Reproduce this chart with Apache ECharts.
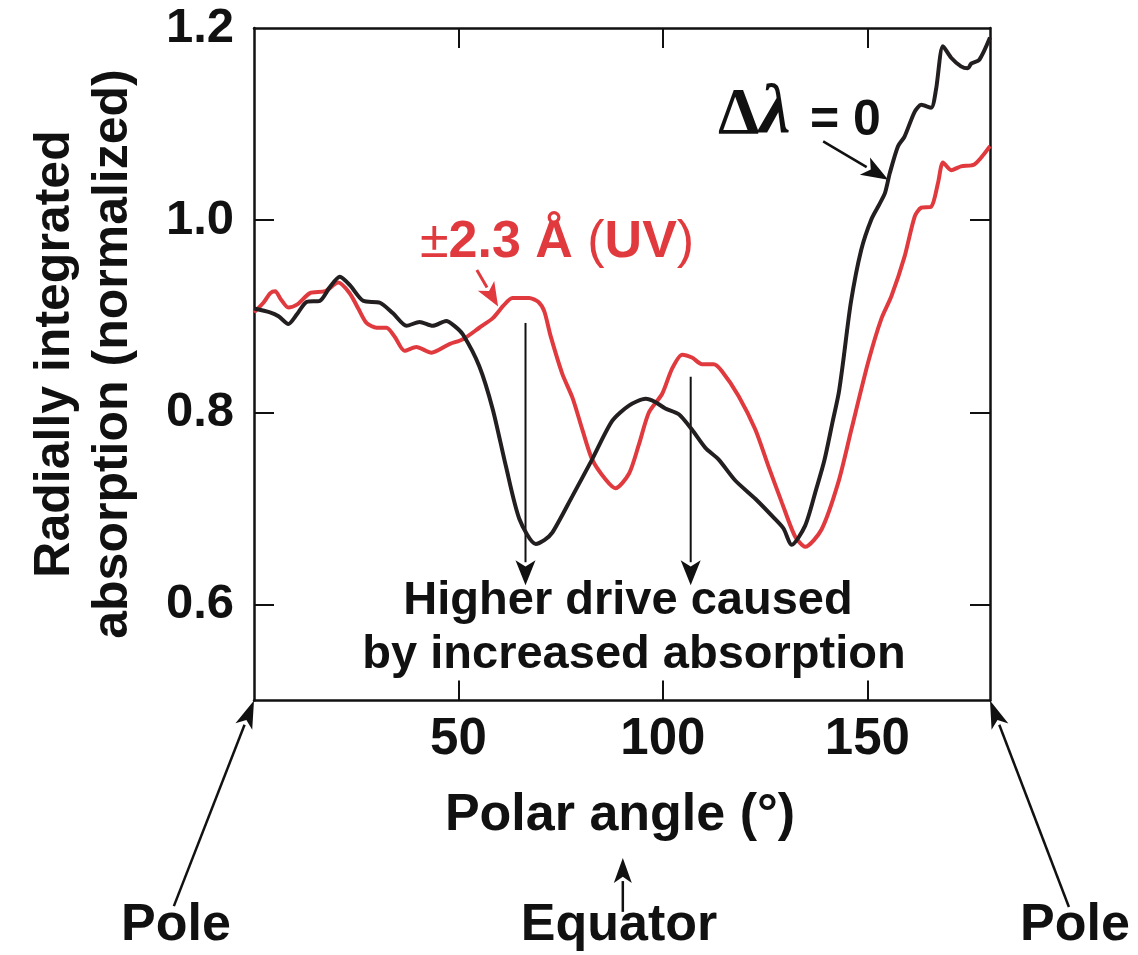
<!DOCTYPE html>
<html>
<head>
<meta charset="utf-8">
<script src="https://cdn.jsdelivr.net/npm/echarts@6/dist/echarts.min.js"></script>
<style>
  html, body { margin: 0; padding: 0; background: #ffffff; }
  #chart { width: 1138px; height: 955px; }
</style>
</head>
<body>
<div id="chart"></div>
<script>
// Polar angle (degrees) and normalized absorption, no wavelength shift (Δλ = 0)
const angleNoShift = [0, 3.9, 6, 8.4, 10.5, 12.9, 16.1, 18.5, 21.0, 23.5, 26.7, 30.8, 34, 37.3, 40.5, 43.7, 47.0, 49, 51.1, 55.1, 58.4, 61.6, 64.9, 68.9, 71, 73.0, 77.9, 82.7, 87.6, 91.7, 95.8, 98, 100.6, 103.9, 107.1, 110.4, 113.6, 117.7, 122.6, 127.4, 129.5, 131.5, 134.8, 137.5, 139.5, 141.5, 143, 144, 146, 148.5, 151.0, 153.0, 154.3, 155.5, 157.5, 159.1, 161.6, 163.2, 165.6, 166.8, 168.5, 170.5, 172.9, 174.6, 175.4, 177.4, 180];
const absorbNoShift = [0.908, 0.904, 0.900, 0.892, 0.902, 0.915, 0.916, 0.930, 0.941, 0.932, 0.916, 0.914, 0.903, 0.890, 0.894, 0.890, 0.895, 0.890, 0.881, 0.848, 0.803, 0.744, 0.689, 0.663, 0.667, 0.675, 0.713, 0.751, 0.791, 0.807, 0.814, 0.811, 0.804, 0.798, 0.782, 0.763, 0.751, 0.729, 0.710, 0.689, 0.679, 0.662, 0.682, 0.720, 0.750, 0.790, 0.820, 0.850, 0.915, 0.969, 1.001, 1.017, 1.028, 1.049, 1.077, 1.087, 1.113, 1.120, 1.117, 1.136, 1.181, 1.169, 1.160, 1.158, 1.163, 1.167, 1.190];

// Same quantity with ±2.3 Å (UV) wavelength shift
const angleShifted = [0, 2.3, 4, 5.2, 6.5, 8.4, 10.5, 13.7, 17.4, 20.6, 23.4, 25.5, 27.5, 30, 32.4, 34.5, 36.8, 39.7, 43.4, 47.8, 51.1, 55.1, 58.4, 61, 63.2, 67.3, 69.5, 71, 72.5, 75.4, 77.9, 80.3, 82.7, 86.0, 88.4, 91.7, 94.1, 96.6, 99.8, 102.2, 104.7, 107.1, 109.6, 112.4, 114.4, 118.5, 122.6, 125.8, 129.1, 132.3, 134.8, 138.8, 142.9, 146.1, 150.2, 153.4, 155.9, 159.1, 161.6, 163.2, 165.6, 167.3, 168.5, 170.5, 172.9, 176.2, 180];
const absorbShifted = [0.904, 0.914, 0.924, 0.926, 0.918, 0.909, 0.912, 0.924, 0.926, 0.935, 0.924, 0.908, 0.893, 0.888, 0.888, 0.878, 0.864, 0.868, 0.862, 0.871, 0.876, 0.888, 0.898, 0.911, 0.919, 0.919, 0.915, 0.905, 0.880, 0.840, 0.815, 0.782, 0.751, 0.730, 0.721, 0.736, 0.766, 0.800, 0.819, 0.845, 0.860, 0.857, 0.850, 0.850, 0.843, 0.817, 0.782, 0.744, 0.706, 0.671, 0.660, 0.678, 0.727, 0.782, 0.852, 0.897, 0.921, 0.962, 1.004, 1.013, 1.014, 1.039, 1.060, 1.052, 1.056, 1.058, 1.077];

// Axis ticks and labels
const xTicks = [50, 100, 150];
const yTicks = [0.6, 0.8, 1.0];
const yLabels = [0.6, 0.8, 1.0, 1.2];

const BLACK = '#231f20';
const RED = '#e03a3e';
const FONT = "'Liberation Sans', Arial, Helvetica, sans-serif";
const SERIF = "'Liberation Serif', 'DejaVu Serif', serif";

const pairs = (xs, ys) => xs.map((x, i) => [x, ys[i]]);

const chart = echarts.init(document.getElementById('chart'), null, { renderer: 'canvas' });

const axisLine = { show: true, onZero: false, lineStyle: { color: '#111', width: 2.5 } };
const tickStyle = (vals) => ({ show: true, inside: true, length: 20, customValues: vals, lineStyle: { color: '#111', width: 2 } });

const option = {
  animation: false,
  backgroundColor: '#ffffff',
  grid: { left: 254, right: 148, top: 28, bottom: 254.5, containLabel: false },
  xAxis: [
    {
      type: 'value', min: 0, max: 180, position: 'bottom',
      axisLine: axisLine, axisTick: tickStyle(xTicks), splitLine: { show: false },
      axisLabel: { customValues: xTicks, fontSize: 51, fontWeight: 'bold', fontFamily: FONT, color: '#111', margin: 14 }
    },
    {
      type: 'value', min: 0, max: 180, position: 'top',
      axisLine: axisLine, axisTick: tickStyle(xTicks), splitLine: { show: false },
      axisLabel: { show: false }
    }
  ],
  yAxis: [
    {
      type: 'value', min: 0.5, max: 1.2, position: 'left',
      axisLine: axisLine, axisTick: tickStyle(yTicks), splitLine: { show: false },
      axisLabel: { customValues: yLabels, formatter: (v) => v.toFixed(1), fontSize: 49, fontWeight: 'bold', fontFamily: FONT, color: '#111', margin: 20 }
    },
    {
      type: 'value', min: 0.5, max: 1.2, position: 'right',
      axisLine: axisLine, axisTick: tickStyle(yTicks), splitLine: { show: false },
      axisLabel: { show: false }
    }
  ],
  series: [
    {
      name: '±2.3 Å (UV)', type: 'line', data: pairs(angleShifted, absorbShifted),
      showSymbol: false, smooth: 0.25, lineStyle: { color: RED, width: 4 }, z: 3
    },
    {
      name: 'Δλ = 0', type: 'line', data: pairs(angleNoShift, absorbNoShift),
      showSymbol: false, smooth: 0.25, lineStyle: { color: BLACK, width: 4 }, z: 4
    }
  ]
};

chart.setOption(option);

// Annotation arrows, anchored in axis units (angle, absorption)
const arrows = [
  { from: [54.5, 0.948], to: [59.7, 0.910], color: RED, width: 3, head: 24, headW: 19 },
  { from: [139.2, 1.082], to: [155.1, 1.042], color: '#111', width: 2.5, head: 27, headW: 20 },
  { from: [66.4, 0.893], to: [66.4, 0.620], color: '#111', width: 2, head: 25, headW: 20 },
  { from: [106.8, 0.837], to: [106.8, 0.620], color: '#111', width: 2, head: 25, headW: 20 },
  { from: [-19.6, 0.286], to: [0, 0.5], color: '#111', width: 2.5, head: 28, headW: 18 },
  { from: [199.3, 0.285], to: [180, 0.5], color: '#111', width: 2.5, head: 28, headW: 18 },
  { from: [90.2, 0.280], to: [90.2, 0.336], color: '#111', width: 2.5, head: 25, headW: 18 }
];

function arrowGraphic(a) {
  const p1 = chart.convertToPixel({ gridIndex: 0 }, a.from);
  const p2 = chart.convertToPixel({ gridIndex: 0 }, a.to);
  const dx = p2[0] - p1[0], dy = p2[1] - p1[1];
  const len = Math.sqrt(dx * dx + dy * dy);
  const ux = dx / len, uy = dy / len;
  const bx = p2[0] - ux * a.head, by = p2[1] - uy * a.head;
  const nx = -uy, ny = ux;
  return {
    type: 'group',
    children: [
      { type: 'line', shape: { x1: p1[0], y1: p1[1], x2: bx + ux * 2, y2: by + uy * 2 },
        style: { stroke: a.color, lineWidth: a.width } },
      { type: 'polygon',
        shape: { points: [[p2[0], p2[1]], [bx + nx * a.headW / 2, by + ny * a.headW / 2], [bx + ux * a.head * 0.25, by + uy * a.head * 0.25], [bx - nx * a.headW / 2, by - ny * a.headW / 2]] },
        style: { fill: a.color } }
    ]
  };
}

const textBase = { fontFamily: FONT, fontWeight: 'bold', fill: '#111' };

const texts = [
  { type: 'text', x: 84, y: 354, rotation: Math.PI / 2,
    style: Object.assign({}, textBase, { text: 'Radially integrated\nabsorption (normalized)', fontSize: 50, lineHeight: 58, align: 'center', verticalAlign: 'middle' }) },
  { type: 'text', x: 620, y: 816,
    style: Object.assign({}, textBase, { text: 'Polar angle (°)', fontSize: 52, align: 'center', verticalAlign: 'middle' }) },
  { type: 'text', x: 176, y: 926,
    style: Object.assign({}, textBase, { text: 'Pole', fontSize: 52, align: 'center', verticalAlign: 'middle' }) },
  { type: 'text', x: 1075, y: 926,
    style: Object.assign({}, textBase, { text: 'Pole', fontSize: 52, align: 'center', verticalAlign: 'middle' }) },
  { type: 'text', x: 619, y: 926,
    style: Object.assign({}, textBase, { text: 'Equator', fontSize: 52, align: 'center', verticalAlign: 'middle' }) },
  { type: 'text', x: 628, y: 601,
    style: Object.assign({}, textBase, { text: 'Higher drive caused', fontSize: 47, align: 'center', verticalAlign: 'middle' }) },
  { type: 'text', x: 634, y: 655,
    style: Object.assign({}, textBase, { text: 'by increased absorption', fontSize: 47, align: 'center', verticalAlign: 'middle' }) },
  { type: 'text', x: 420, y: 243,
    style: {
      text: '{pm|±}{b|2.3 Å }{p|(}{b|UV}{p|)}', align: 'left', verticalAlign: 'middle',
      rich: {
        pm: { fontFamily: FONT, fontWeight: 'normal', fontSize: 52, fill: RED, verticalAlign: 'bottom' },
        b: { fontFamily: FONT, fontWeight: 'bold', fontSize: 52, fill: RED, verticalAlign: 'bottom' },
        p: { fontFamily: FONT, fontWeight: 'normal', fontSize: 52, fill: RED, verticalAlign: 'bottom' }
      }
    } },
  { type: 'text', x: 718, y: 114,
    style: {
      text: '{d|Δ}{l|λ}', align: 'left', verticalAlign: 'middle',
      rich: {
        d: { fontFamily: SERIF, fontWeight: 'bold', fontSize: 66, fill: '#111', verticalAlign: 'bottom' },
        l: { fontFamily: SERIF, fontWeight: 'bold', fontStyle: 'italic', fontSize: 70, fill: '#111', verticalAlign: 'bottom' }
      }
    } },
  { type: 'text', x: 810, y: 121,
    style: Object.assign({}, textBase, { text: '= 0', fontSize: 50, align: 'left', verticalAlign: 'middle' }) }
];

chart.setOption({ graphic: arrows.map(arrowGraphic).concat(texts) });
</script>
</body>
</html>
